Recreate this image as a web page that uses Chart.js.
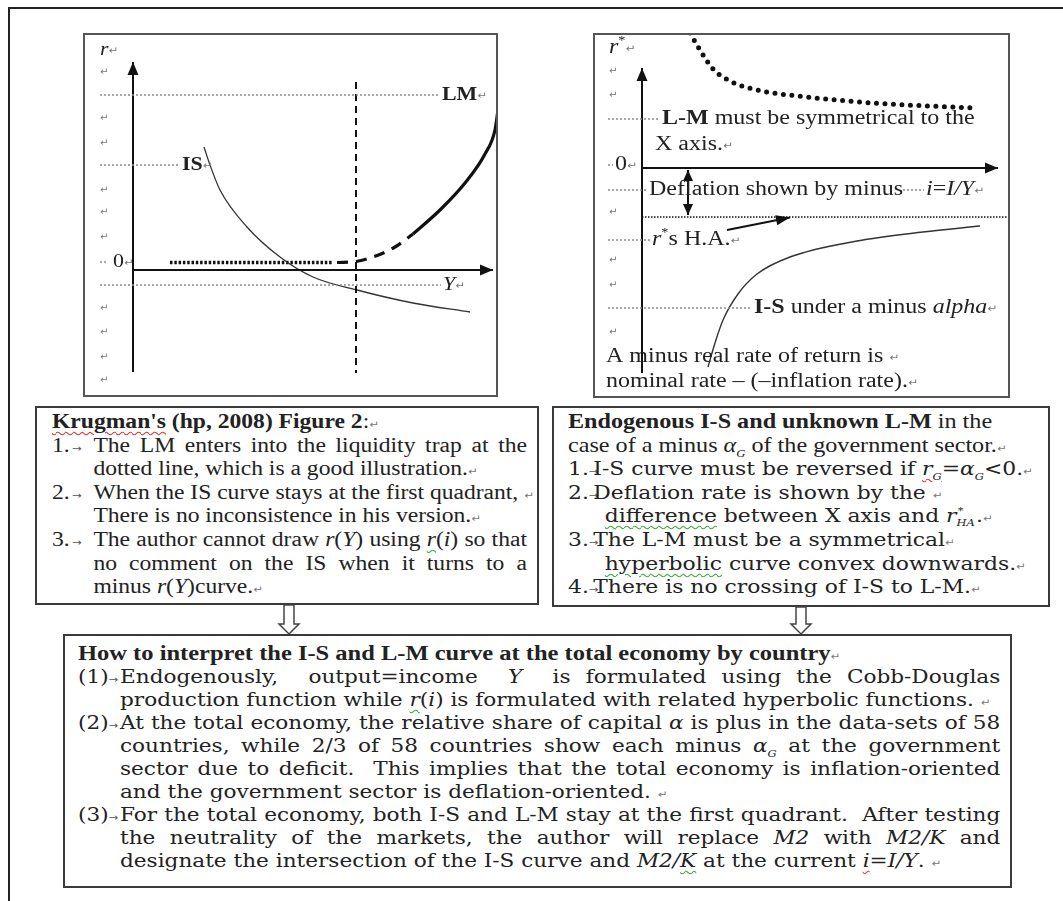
<!DOCTYPE html>
<html><head><meta charset="utf-8">
<script src="https://cdn.jsdelivr.net/npm/chart.js@4.4.1/dist/chart.umd.min.js"></script>
<style>
body{margin:0;background:#fff;}
#page{position:relative;width:1063px;height:901px;overflow:hidden;background:#fff;font-family:"Liberation Serif","Times New Roman",serif;color:#222;}
.fTop{position:absolute;left:8px;top:7px;width:1055px;height:2px;background:#222;}
.fLeft{position:absolute;left:8px;top:7px;width:2px;height:894px;background:#222;}
.panel{position:absolute;}
.panel canvas{position:absolute;left:0;top:0;}
.panel .bd{position:absolute;left:0;top:0;right:0;bottom:0;border:2px solid #555;box-sizing:border-box;pointer-events:none;}
.box{position:absolute;border:2px solid #3a3a3a;box-sizing:border-box;background:#fff;}
.inner{transform-origin:0 0;}
.l{display:flex;white-space:nowrap;overflow:visible;}
.num{flex:none;}
.tx{flex:1;white-space:nowrap;}
.j{text-align:justify;text-align-last:justify;}
sub,sup{line-height:0;}
.pm{font-family:"DejaVu Sans",sans-serif;font-size:10px;color:#777;font-style:normal;font-weight:normal;}
.tab{font-family:"DejaVu Sans",sans-serif;font-size:10px;color:#555;font-style:normal;font-weight:normal;margin:0 2px;}
.sq{text-decoration:underline wavy #d33 1px;text-underline-offset:3px;}
.sg{text-decoration:underline wavy #3a3 1px;text-underline-offset:3px;}
.c{font-family:"DejaVu Serif",serif;}
svg{position:absolute;}
</style></head>
<body>
<div id="page">
 <div class="fTop"></div><div class="fLeft"></div>

 <div class="panel" style="left:83px;top:33px;width:415px;height:364px;">
  <canvas id="c1" width="415" height="364" style="width:415px;height:364px"></canvas><div class="bd"></div>
 </div>
 <div class="panel" style="left:593px;top:33px;width:417px;height:365px;">
  <canvas id="c2" width="417" height="365" style="width:417px;height:365px"></canvas><div class="bd"></div>
 </div>

 <!-- left text box -->
 <div class="box" style="left:35px;top:406px;width:504px;height:199px;padding:2px 0 0 15px;">
  <div class="inner" style="transform:scaleX(1.15);width:413px;font-size:20.5px;line-height:23.6px;">
   <div class="l" style="height:23.6px"><span><b><span class="sq">Krugman's</span> (hp, 2008) Figure 2</b>:<span class="pm">↵</span></span></div>
   <div class="l" style="height:23.6px"><span class="num" style="width:36px">1.<span class="tab">→</span></span><span class="tx j">The LM enters into the liquidity trap at the</span></div>
   <div class="l" style="height:23.6px"><span class="num" style="width:36px"></span><span class="tx">dotted line, which is a good illustration.<span class="pm">↵</span></span></div>
   <div class="l" style="height:23.6px"><span class="num" style="width:36px">2.<span class="tab">→</span></span><span class="tx">When the IS curve stays at the first quadrant, <span class="pm">↵</span></span></div>
   <div class="l" style="height:23.6px"><span class="num" style="width:36px"></span><span class="tx">There is no inconsistence in his version.<span class="pm">↵</span></span></div>
   <div class="l" style="height:23.6px"><span class="num" style="width:36px">3.<span class="tab">→</span></span><span class="tx j">The author cannot draw <i>r</i>(<i>Y</i>) using <i class="sg">r</i>(<i>i</i>) so that</span></div>
   <div class="l" style="height:23.6px"><span class="num" style="width:36px"></span><span class="tx j">no comment on the IS when it turns to a</span></div>
   <div class="l" style="height:23.6px"><span class="num" style="width:36px"></span><span class="tx">minus <i>r</i>(<i>Y</i>)curve.<span class="pm">↵</span></span></div>
  </div>
 </div>

 <!-- right text box -->
 <div class="box" style="left:552px;top:406px;width:498px;height:201px;padding:2px 0 0 14px;">
  <div class="inner" style="transform:scaleX(1.15);width:406px;font-size:21px;line-height:23.6px;">
   <div class="l" style="height:23.6px"><span><b>Endogenous I-S and unknown L-M</b> in the</span></div>
   <div class="l" style="height:23.6px"><span>case of a minus <i>α<sub style="font-size:11px">G</sub></i> of the government sector.<span class="pm">↵</span></span></div>
   <div class="l c" style="height:23.6px;font-size:19px"><span class="num" style="width:22px">1.<span class="tab" style="margin:0">→</span></span><span class="tx">I-S curve must be reversed if <i class="sq">r<sub style="font-size:10px">G</sub></i>=<i>α<sub style="font-size:10px">G</sub></i>&lt;0.<span class="pm">↵</span></span></div>
   <div class="l c" style="height:23.6px;font-size:19px"><span class="num" style="width:22px">2.<span class="tab" style="margin:0">→</span></span><span class="tx">Deflation rate is shown by the <span class="pm">↵</span></span></div>
   <div class="l c" style="height:23.6px;font-size:19px"><span class="num" style="width:32px"></span><span class="tx"><span class="sg">difference</span> between X axis and <i>r</i><span style="display:inline-block;position:relative;width:17px;height:10px;font-size:10px;line-height:10px"><span style="position:absolute;left:1px;top:-6px">*</span><i style="position:absolute;left:0;top:6px">HA</i></span>.<span class="pm">↵</span></span></div>
   <div class="l c" style="height:23.6px;font-size:19px"><span class="num" style="width:22px">3.<span class="tab" style="margin:0">→</span></span><span class="tx">The L-M must be a symmetrical<span class="pm">↵</span></span></div>
   <div class="l c" style="height:23.6px;font-size:19px"><span class="num" style="width:32px"></span><span class="tx"><span class="sg">hyperbolic</span> curve convex downwards.<span class="pm">↵</span></span></div>
   <div class="l c" style="height:23.6px;font-size:19px"><span class="num" style="width:22px">4.<span class="tab" style="margin:0">→</span></span><span class="tx">There is no crossing of I-S to L-M.<span class="pm">↵</span></span></div>
  </div>
 </div>

 <svg style="left:276px;top:604px" width="26" height="32"><polygon points="8,1 18,1 18,20 23,20 13,30 3,20 8,20" fill="#fff" stroke="#444" stroke-width="1.5"/></svg>
 <svg style="left:788px;top:606px" width="26" height="30"><polygon points="8,1 18,1 18,18 23,18 13,28 3,18 8,18" fill="#fff" stroke="#444" stroke-width="1.5"/></svg>

 <!-- bottom text box -->
 <div class="box" style="left:63px;top:634px;width:949px;height:254px;padding:6px 0 0 13px;">
  <div class="inner" style="transform:scaleX(1.15);width:802px;font-size:18.8px;line-height:23px;">
   <div class="l" style="height:23px;font-size:21.3px"><span><b>How to interpret the I-S and L-M curve at the total economy by country</b><span class="pm">↵</span></span></div>
   <div class="l c" style="height:23px"><span class="num" style="width:36.5px">(1)<span class="tab" style="margin:0">→</span></span><span class="tx j">Endogenously,&nbsp; output=income&nbsp; <i>Y</i>&nbsp; is formulated using the Cobb-Douglas</span></div>
   <div class="l c" style="height:23px"><span class="num" style="width:36.5px"></span><span class="tx">production function while <i class="sg">r</i>(<i>i</i>) is formulated with related hyperbolic functions. <span class="pm">↵</span></span></div>
   <div class="l c" style="height:23px"><span class="num" style="width:36.5px">(2)<span class="tab" style="margin:0">→</span></span><span class="tx j">At the total economy, the relative share of capital <i>α</i> is plus in the data-sets of 58</span></div>
   <div class="l c" style="height:23px"><span class="num" style="width:36.5px"></span><span class="tx j">countries, while 2/3 of 58 countries show each minus <i>α<sub style="font-size:10px">G</sub></i> at the government</span></div>
   <div class="l c" style="height:23px"><span class="num" style="width:36.5px"></span><span class="tx j">sector due to deficit.&nbsp; This implies that the total economy is inflation-oriented</span></div>
   <div class="l c" style="height:23px"><span class="num" style="width:36.5px"></span><span class="tx">and the government sector is deflation-oriented. <span class="pm">↵</span></span></div>
   <div class="l c" style="height:23px"><span class="num" style="width:36.5px">(3)<span class="tab" style="margin:0">→</span></span><span class="tx j">For the total economy, both I-S and L-M stay at the first quadrant.&nbsp; After testing</span></div>
   <div class="l c" style="height:23px"><span class="num" style="width:36.5px"></span><span class="tx j">the neutrality of the markets, the author will replace <i>M2</i> with <i>M2/K</i> and</span></div>
   <div class="l c" style="height:23px"><span class="num" style="width:36.5px"></span><span class="tx">designate the intersection of the I-S curve and <i>M2/<span class="sg">K</span></i> at the current <i class="sq">i</i>=<i>I/Y</i>. <span class="pm">↵</span></span></div>
  </div>
 </div>
</div>

<script>
// ---------- Panel 1 data (diagram units; origin at axes crossing) ----------
const p1XRange = [-5.0, 36.5];
const p1YRange = [-12.7, 23.7];
const p1YAxis = [[0, -10.2], [0, 20.8]];
const p1XAxis = [[0, 0], [36.0, 0]];
const p1Vertical = [[22.3, 18.8], [22.3, -10.3]];
const p1IS = [[7.1, 12.3], [7.7, 10.5], [8.7, 8.0], [11.4, 4.3], [14.7, 1.3], [18.0, -0.7], [22.4, -2.0], [28.0, -3.3], [33.7, -4.2]];
const p1LMTrap = [[3.7, 0.75], [20.0, 0.75]];
const p1LMDashed = [[20.4, 0.75], [22.3, 0.85], [24.0, 1.3], [26.2, 2.3], [28.0, 3.6]];
const p1LMSolid = [[28.0, 3.6], [30.7, 6.0], [33.2, 8.7], [35.2, 11.6], [36.2, 14.0], [36.5, 16.0]];
const p1Guides = [
  [[-3.3, 17.5], [30.7, 17.5]],
  [[-3.3, 10.5], [4.7, 10.5]],
  [[-3.3, 0.8], [-2.6, 0.8]],
  [[-3.3, -1.5], [30.8, -1.5]]
];
const p1Labels = [
  [-3.3, 22.0, '_r_↵'],
  [30.9, 17.5, '**LM**↵'],
  [4.9, 10.5, '**IS**↵'],
  [-2.0, 0.8, '0↵'],
  [31.0, -1.5, '_Y_↵']
];
const p1Marks = [19.8, 15.2, 12.7, 8.0, 5.8, 3.3, -3.8, -6.2, -8.7, -11.0];

// ---------- Panel 2 data ----------
const p2XRange = [-4.9, 36.8];
const p2YRange = [-23.0, 13.5];
const p2YAxis = [[0, -20.5], [0, 10.0]];
const p2XAxis = [[0, 0], [35.6, 0]];
const p2HA = [[0, -4.9], [36.8, -4.9]];
const p2Deflation = [[4.6, -0.2], [4.6, -4.7]];
const p2Pointer = [[8.5, -6.2], [14.8, -4.95]];
const p2IS = [[6.6, -19.9], [7.3, -17.5], [8.1, -15.2], [9.6, -12.6], [11.5, -10.6], [14.8, -8.9], [21.5, -7.3], [28.1, -6.4], [33.8, -5.8]];
const p2LM = [[4.8, 13.5], [5.8, 11.8], [7.1, 9.9], [8.8, 8.7], [11.5, 7.8], [16.5, 7.1], [23.1, 6.5], [33.1, 6.0]];
const p2Guides = [
  [[-3.4, 4.9], [1.8, 4.9]],
  [[-3.4, 0.3], [-2.9, 0.3]],
  [[-3.4, -2.2], [0.6, -2.2]],
  [[26.1, -2.2], [28.2, -2.2]],
  [[-3.4, -7.2], [0.8, -7.2]],
  [[-3.4, -14.0], [11.0, -14.0]]
];
const p2Labels = [
  [-3.3, 12.0, '_r_^*^↵'],
  [2.0, 4.9, '**L-M** must be symmetrical to the'],
  [1.3, 2.3, 'X axis.↵'],
  [-2.7, 0.3, '0↵'],
  [0.7, -2.2, 'Deflation shown by minus'],
  [28.4, -2.2, '_i_=_I/Y_↵'],
  [1.0, -7.2, '_r_^*^s H.A.↵'],
  [11.2, -14.0, '**I-S** under a minus _alpha_↵'],
  [-3.6, -18.9, 'A minus real rate of return is ↵'],
  [-3.6, -21.4, 'nominal rate – (–inflation rate).↵']
];
const p2Marks = [9.7, 7.3, -4.4, -9.2, -11.7, -16.4];

// ---------- helpers ----------
const pts = a => a.map(p => ({x: p[0], y: p[1]}));
function line(data, o) {
  return Object.assign({data: pts(data), showLine: true, pointRadius: 0, borderColor: '#111',
    borderWidth: 2, fill: false, clip: false, tension: 0}, o || {});
}
function parseRuns(s) {
  const re = /\*\*(.+?)\*\*|_(.+?)_|\^(.+?)\^|(↵)/g;
  const runs = []; let last = 0, m;
  while ((m = re.exec(s))) {
    if (m.index > last) runs.push({t: s.slice(last, m.index)});
    if (m[1]) runs.push({t: m[1], b: 1});
    else if (m[2]) runs.push({t: m[2], i: 1});
    else if (m[3]) runs.push({t: m[3], sup: 1});
    else runs.push({t: '↵', mark: 1});
    last = re.lastIndex;
  }
  if (last < s.length) runs.push({t: s.slice(last)});
  return runs;
}
function fontFor(r, size) {
  if (r.mark) return '10px "DejaVu Sans"';
  if (r.sup) return Math.round(size * 0.6) + 'px "Liberation Serif"';
  return (r.i ? 'italic ' : '') + (r.b ? 'bold ' : '') + size + 'px "Liberation Serif"';
}
const arrowPlugin = {
  id: 'arrows',
  afterDatasetsDraw(chart) {
    const ctx = chart.ctx;
    chart.data.datasets.forEach((ds, i) => {
      if (!ds.arrowEnd && !ds.arrowStart) return;
      const pe = chart.getDatasetMeta(i).data;
      const n = pe.length;
      const heads = [];
      if (ds.arrowEnd) heads.push([pe[n - 1], pe[n - 2]]);
      if (ds.arrowStart) heads.push([pe[0], pe[1]]);
      heads.forEach(([tip, prev]) => {
        const a = Math.atan2(tip.y - prev.y, tip.x - prev.x);
        const L = ds.arrowLen || 13, W = ds.arrowW || 5.5;
        ctx.save();
        ctx.translate(tip.x, tip.y); ctx.rotate(a);
        ctx.beginPath(); ctx.moveTo(0, 0); ctx.lineTo(-L, -W); ctx.lineTo(-L, W); ctx.closePath();
        ctx.fillStyle = '#111'; ctx.fill();
        ctx.restore();
      });
    });
  }
};
function labelPlugin(labels, marks, size, hs) {
  return {
    id: 'labels',
    afterDraw(chart) {
      const ctx = chart.ctx, sx = chart.scales.x, sy = chart.scales.y;
      ctx.save();
      ctx.textBaseline = 'middle';
      labels.forEach(([x, y, s]) => {
        ctx.save();
        ctx.translate(sx.getPixelForValue(x), sy.getPixelForValue(y));
        ctx.scale(hs, 1);
        let px = 0;
        parseRuns(s).forEach(r => {
          ctx.font = fontFor(r, size);
          ctx.fillStyle = r.mark ? '#777' : '#222';
          const dy = r.sup ? -size * 0.35 : (r.mark ? 1 : 0);
          ctx.fillText(r.t, px, dy);
          px += ctx.measureText(r.t).width;
        });
        ctx.restore();
      });
      ctx.font = '10px "DejaVu Sans"'; ctx.fillStyle = '#777';
      marks.forEach(y => ctx.fillText('↵', sx.getPixelForValue(labels[0][0]), sy.getPixelForValue(y)));
      ctx.restore();
    }
  };
}
function makeChart(id, xr, yr, datasets, labels, marks, size, hs) {
  return new Chart(document.getElementById(id), {
    type: 'scatter',
    data: {datasets},
    options: {
      responsive: false, animation: false, devicePixelRatio: 1,
      layout: {padding: 0},
      plugins: {legend: {display: false}, tooltip: {enabled: false}},
      scales: {
        x: {type: 'linear', display: false, min: xr[0], max: xr[1]},
        y: {type: 'linear', display: false, min: yr[0], max: yr[1]}
      },
      elements: {point: {radius: 0}}
    },
    plugins: [arrowPlugin, labelPlugin(labels, marks, size, hs)]
  });
}
const guide = g => line(g, {borderColor: '#8a8a8a', borderWidth: 1.5, borderDash: [2, 2]});

makeChart('c1', p1XRange, p1YRange, [
  ...p1Guides.map(guide),
  line(p1YAxis, {arrowEnd: true}),
  line(p1XAxis, {arrowEnd: true}),
  line(p1Vertical, {borderDash: [7, 5], borderWidth: 2}),
  line(p1IS, {borderWidth: 1.3, cubicInterpolationMode: 'monotone', borderColor: '#333'}),
  line(p1LMTrap, {borderWidth: 3.5, borderDash: [2.5, 1.8]}),
  line(p1LMDashed, {borderWidth: 3.2, borderDash: [11, 8], cubicInterpolationMode: 'monotone'}),
  line(p1LMSolid, {borderWidth: 3.2, cubicInterpolationMode: 'monotone'})
], p1Labels, p1Marks, 19, 1.15);

makeChart('c2', p2XRange, p2YRange, [
  ...p2Guides.map(guide),
  line(p2YAxis, {arrowEnd: true}),
  line(p2XAxis, {arrowEnd: true}),
  line(p2HA, {borderWidth: 1.5, borderDash: [1.5, 1.5]}),
  line(p2Deflation, {arrowEnd: true, arrowStart: true, arrowLen: 11, arrowW: 5}),
  line(p2Pointer, {arrowEnd: true, borderWidth: 1.8, arrowLen: 14, arrowW: 5}),
  line(p2IS, {borderWidth: 1.4, cubicInterpolationMode: 'monotone', borderColor: '#333'}),
  line(p2LM, {borderWidth: 5, borderDash: [0, 8.5], borderCapStyle: 'round', cubicInterpolationMode: 'monotone'})
], p2Labels, p2Marks, 20, 1.2);
</script>
</body></html>
